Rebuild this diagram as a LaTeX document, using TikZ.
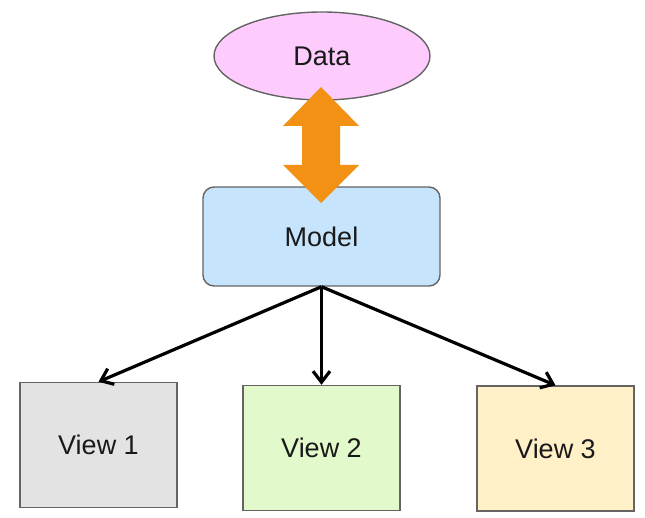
\documentclass[tikz,border=0pt]{standalone}
\usepackage{fontspec}
\setmainfont{Liberation Sans}
\usetikzlibrary{shapes.geometric,arrows.meta}
\definecolor{datafill}{RGB}{253,204,253}
\definecolor{modelfill}{RGB}{198,228,252}
\definecolor{viewa}{RGB}{227,227,227}
\definecolor{viewb}{RGB}{226,250,203}
\definecolor{viewc}{RGB}{255,240,200}
\definecolor{edge}{RGB}{100,100,100}
\definecolor{linkorange}{RGB}{242,145,20}
\definecolor{ink}{RGB}{25,25,25}
\tikzset{
  box/.style={draw=edge, line width=1.4pt, text=ink, font=\fontsize{27}{32}\selectfont, inner sep=0pt},
  viewbox/.style={box, rectangle, minimum width=157pt, minimum height=125pt},
  flow/.style={draw=black, line width=3.2pt, -{Straight Barb[length=11pt,width=17pt,line width=3.2pt]}}
}
\begin{document}
\begin{tikzpicture}[x=1pt,y=-1pt]
  \useasboundingbox (0,0) rectangle (645,518);
  % data source and model
  \node[box, ellipse, fill=datafill, minimum width=216pt, minimum height=88pt] (data) at (322,56) {Data};
  \node[box, rectangle, rounded corners=11pt, fill=modelfill, minimum width=237pt, minimum height=99pt] (model) at (321.5,236.5) {Model};
  % views
  \node[viewbox, fill=viewa] (v1) at (98.5,445) {View 1};
  \node[viewbox, fill=viewb] (v2) at (321.5,448) {View 2};
  \node[viewbox, fill=viewc] (v3) at (555.5,448.5) {View 3};
  % two-way link between data and model
  \coordinate (link) at (321,87);
  \fill[linkorange] (link) -- ++(38,39) -- ++(-19,0) -- ++(0,39) -- ++(19,0)
    -- ++(-38,38) -- ++(-38,-38) -- ++(19,0) -- ++(0,-39) -- ++(-19,0) -- cycle;
  % model feeds each view
  \draw[flow] (model.south) -- (v1.north);
  \draw[flow] (model.south) -- (v2.north);
  \draw[flow] (model.south) -- (v3.north);
\end{tikzpicture}
\end{document}
